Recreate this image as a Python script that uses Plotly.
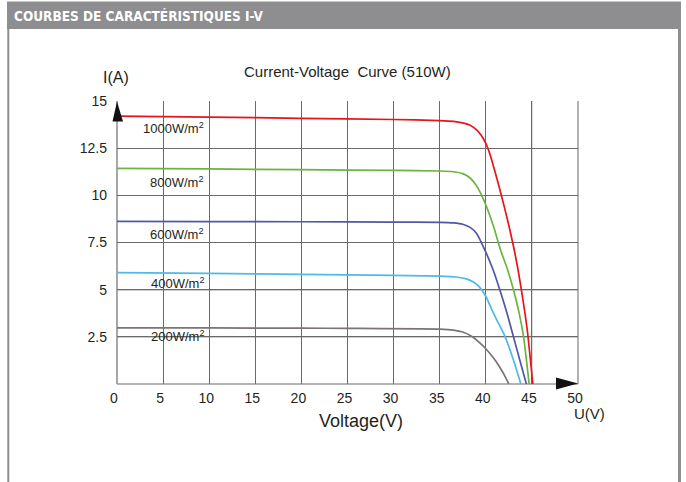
import plotly.graph_objects as go

# ---------------- data ----------------
irradiance_labels = ["1000W/m<sup>2</sup>", "800W/m<sup>2</sup>", "600W/m<sup>2</sup>",
                     "400W/m<sup>2</sup>", "200W/m<sup>2</sup>"]
series_colors = ["#e8141b", "#6cb33f", "#5157a5", "#4fb9e8", "#7b7374"]

v_1000 = [0, 10, 20, 30, 35, 36.5, 37.5, 38.3, 39, 39.5, 40, 40.5, 41, 41.5, 42, 42.5, 43, 43.5, 44, 44.5, 45.1]
i_1000 = [14.2, 14.15, 14.08, 14.02, 13.96, 13.92, 13.84, 13.72, 13.47, 13.18, 12.75, 12.1, 11.25, 10.35, 9.4,
          8.4, 7.3, 6.05, 4.55, 2.85, 0]

v_800 = [0, 10, 20, 30, 35, 36.5, 37.5, 38.3, 39, 39.6, 40.2, 40.9, 41.6, 42.3, 43.0, 43.6, 44.1, 44.7]
i_800 = [11.43, 11.4, 11.36, 11.32, 11.29, 11.25, 11.15, 10.92, 10.5, 9.95, 9.25, 8.25, 7.1, 6.15, 5.0, 3.8,
         2.5, 0]

v_600 = [0, 10, 20, 30, 35, 36.5, 37.5, 38.3, 39.0, 39.9, 40.8, 41.5, 42.3, 43.0, 43.7, 44.4]
i_600 = [8.62, 8.61, 8.6, 8.58, 8.57, 8.54, 8.47, 8.3, 7.98, 7.1, 6.04, 5.02, 3.75, 2.5, 1.25, 0]

v_400 = [0, 10, 20, 25, 35, 36.8, 37.9, 38.7, 39.3, 40.0, 40.6, 41.2, 42.1, 43.0, 43.8]
i_400 = [5.9, 5.86, 5.81, 5.78, 5.72, 5.67, 5.57, 5.39, 5.15, 4.65, 4.0, 3.39, 2.5, 1.27, 0]

v_200 = [0, 10, 20, 25, 35, 36.5, 37.5, 38.5, 39.2, 40.0, 40.8, 41.5, 42.0, 42.5]
i_200 = [2.98, 2.97, 2.96, 2.95, 2.91, 2.86, 2.76, 2.52, 2.25, 1.87, 1.4, 0.9, 0.48, 0]

label_v = [2.6, 3.4, 3.4, 3.5, 3.5]
label_i = [13.57, 10.7, 7.95, 5.35, 2.54]

x_ticks = [0, 5, 10, 15, 20, 25, 30, 35, 40, 45, 50]
y_ticks = [2.5, 5, 7.5, 10, 12.5, 15]
y_tick_text = ["2.5", "5", "7.5", "10", "12.5", "15"]

# ---------------- figure ----------------
W, H = 686, 482
L, R, T, B = 117, 578, 101, 384  # plot area in pixels


def px(x):
    return (x - L) / (R - L)


def py(y):
    return (B - y) / (B - T)


FONT = "Liberation Sans, Arial, sans-serif"
TXT = "#231f20"

fig = go.Figure()
volts = [v_1000, v_800, v_600, v_400, v_200]
amps = [i_1000, i_800, i_600, i_400, i_200]
for v, i, c, name in zip(volts, amps, series_colors, irradiance_labels):
    fig.add_trace(go.Scatter(x=v, y=i, mode="lines", name=name,
                             line=dict(color=c, width=1.7, shape="spline", smoothing=0.6),
                             showlegend=False, hoverinfo="skip"))

for name, xv, yv in zip(irradiance_labels, label_v, label_i):
    fig.add_annotation(x=xv, y=yv, xref="x", yref="y", text=name, showarrow=False,
                       xanchor="left", yanchor="middle",
                       font=dict(family=FONT, size=13, color=TXT))

shapes = []
# page frame and header band
shapes.append(dict(type="rect", xref="paper", yref="paper", x0=px(7), x1=px(681),
                   y0=py(29), y1=py(1.5), fillcolor="#8e8e90", line=dict(width=0), layer="below"))
shapes.append(dict(type="line", xref="paper", yref="paper", x0=px(8.3), x1=px(8.3),
                   y0=py(29), y1=py(490), line=dict(color="#8e8e90", width=2)))
shapes.append(dict(type="line", xref="paper", yref="paper", x0=px(679.5), x1=px(679.5),
                   y0=py(29), y1=py(490), line=dict(color="#8e8e90", width=3)))
# lighter grid lines
shapes.append(dict(type="line", xref="x", yref="paper", x0=45, x1=45, y0=0, y1=1,
                   line=dict(color="#c8c8c8", width=1.5), layer="between"))
for yv in [2.5, 5]:
    shapes.append(dict(type="line", xref="paper", yref="y", x0=0, x1=1, y0=yv, y1=yv,
                       line=dict(color="#9a9a9a", width=1.5), layer="between"))
# axis lines
shapes.append(dict(type="line", xref="paper", yref="paper", x0=0, x1=1, y0=0, y1=0,
                   line=dict(color="#b4b4b4", width=2), layer="between"))
shapes.append(dict(type="line", xref="paper", yref="paper", x0=0, x1=0, y0=0, y1=1,
                   line=dict(color="#8a8a8a", width=1.5), layer="between"))
shapes.append(dict(type="line", xref="paper", yref="paper", x0=1, x1=1, y0=0, y1=1,
                   line=dict(color="#9a9a9a", width=1.5), layer="between"))
# arrow heads
shapes.append(dict(type="path", xref="paper", yref="paper",
                   path=f"M {px(112.5)},{py(121.5)} L {px(117)},{py(101.5)} L {px(123)},{py(121.5)} Z",
                   fillcolor="#111111", line=dict(width=0), layer="above"))
shapes.append(dict(type="path", xref="paper", yref="paper",
                   path=f"M {px(556)},{py(377.5)} L {px(578)},{py(383.5)} L {px(556)},{py(389.5)} Z",
                   fillcolor="#111111", line=dict(width=0), layer="above"))
fig.update_layout(shapes=shapes)

# texts
fig.add_annotation(xref="paper", yref="paper", x=px(12), y=py(15.5),
                   text="<b>COURBES DE CARACTÉRISTIQUES I-V</b>", showarrow=False,
                   xanchor="left", yanchor="middle",
                   font=dict(family="Liberation Sans Narrow, DejaVu Sans Condensed, Roboto, sans-serif",
                             size=13.5, color="white"))
fig.add_annotation(xref="paper", yref="paper", x=px(347), y=py(72),
                   text="Current-Voltage&nbsp; Curve (510W)", showarrow=False,
                   xanchor="center", yanchor="middle",
                   font=dict(family=FONT, size=15, color=TXT))
fig.add_annotation(xref="paper", yref="paper", x=px(116), y=py(77),
                   text="I(A)", showarrow=False, xanchor="center", yanchor="middle",
                   font=dict(family=FONT, size=16, color=TXT))
fig.add_annotation(xref="paper", yref="paper", x=px(361), y=py(421),
                   text="Voltage(V)", showarrow=False, xanchor="center", yanchor="middle",
                   font=dict(family=FONT, size=18, color=TXT))
fig.add_annotation(xref="paper", yref="paper", x=px(589), y=py(413),
                   text="U(V)", showarrow=False, xanchor="center", yanchor="middle",
                   font=dict(family=FONT, size=15, color=TXT))

fig.update_xaxes(range=[0, 50], tickvals=x_ticks, showgrid=True, gridcolor="#6a6a6a",
                 gridwidth=1, zeroline=False, showline=False, ticks="",
                 tickfont=dict(family=FONT, size=14, color=TXT),
                 ticklabelstandoff=4, ticklabelshift=-3, fixedrange=True)
fig.update_yaxes(range=[0, 15], tickvals=y_ticks, ticktext=y_tick_text, showgrid=True,
                 gridcolor="#6a6a6a", gridwidth=1, zeroline=False, showline=False, ticks="",
                 tickfont=dict(family=FONT, size=14, color=TXT),
                 ticklabelstandoff=9, fixedrange=True)

fig.update_layout(width=W, height=H, margin=dict(l=L, r=W - R, t=T, b=H - B),
                  paper_bgcolor="white", plot_bgcolor="white", showlegend=False)

fig.write_html("out.html", config={"displayModeBar": False},
               post_script="document.body.style.margin='0px';")
